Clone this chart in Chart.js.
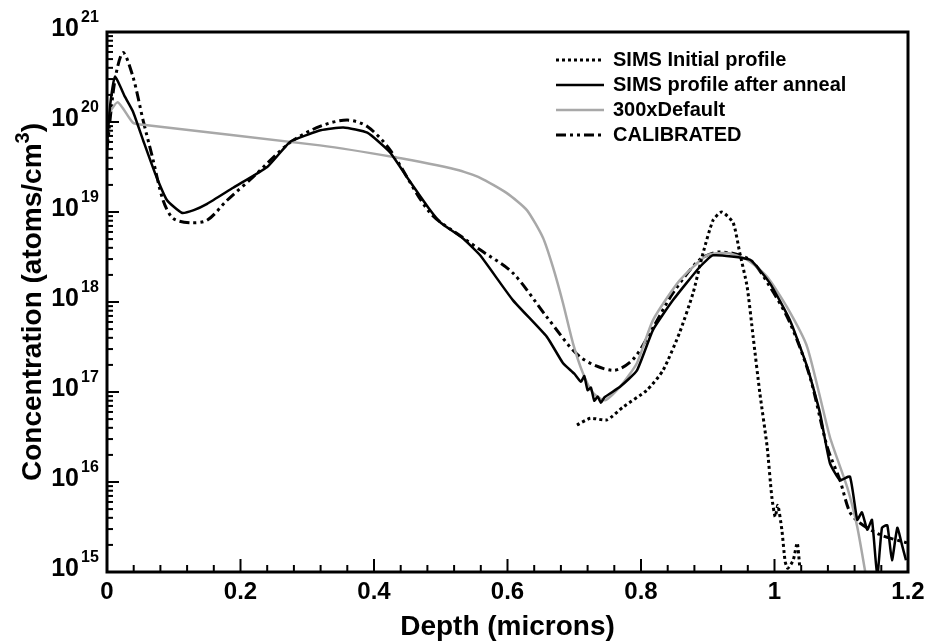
<!DOCTYPE html>
<html lang="en">
<head>
<meta charset="UTF-8">
<title>SIMS profile</title>
<style>
  html, body { margin: 0; padding: 0; background: #fff; }
  #wrap { position: relative; width: 925px; height: 643px; }
</style>
</head>
<body>
<div id="wrap"><canvas id="myChart" width="925" height="643"></canvas></div>

<script src="https://cdn.jsdelivr.net/npm/chart.js"></script>
<script>
// depth in microns, concentration in atoms/cm3
var initDepth = [0.704, 0.724, 0.749, 0.773, 0.809, 0.833, 0.858, 0.878, 0.893, 0.908, 0.921, 0.938, 0.948, 0.959, 0.968, 0.978, 0.989, 0.996, 1.001, 1.005, 1.011, 1.016, 1.02, 1.028, 1.034, 1.038];
var initConc  = [4.3e16, 5.1e16, 4.9e16, 6.8e16, 1.05e17, 1.74e17, 4.6e17, 1.26e18, 3.5e18, 8.1e18, 1.0e19, 7.6e18, 3.5e18, 1.48e18, 4.1e17, 9.8e16, 2.45e16, 6.8e15, 4.1e15, 5.5e15, 2.95e15, 1.3e15, 1.1e15, 1.35e15, 2.1e15, 1.1e15];

var annealDepth = [0.0, 0.005, 0.012, 0.027, 0.039, 0.054, 0.072, 0.09, 0.112, 0.13, 0.15, 0.189, 0.24, 0.274, 0.30, 0.32, 0.354, 0.39, 0.424, 0.45, 0.484, 0.50, 0.533, 0.559, 0.608, 0.659, 0.683, 0.70, 0.71, 0.715, 0.72, 0.725, 0.73, 0.735, 0.74, 0.745, 0.769, 0.794, 0.818, 0.848, 0.888, 0.908, 0.963, 0.993, 1.023, 1.049, 1.068, 1.083, 1.098, 1.113, 1.124, 1.131, 1.139, 1.146, 1.154, 1.161, 1.169, 1.176, 1.184, 1.191, 1.197];
var annealConc  = [5.6e19, 1.6e20, 3.2e20, 1.9e20, 1.3e20, 6.3e19, 2.7e19, 1.35e19, 9.8e18, 1.05e19, 1.23e19, 1.86e19, 3.16e19, 6.0e19, 7.2e19, 8.1e19, 8.7e19, 7.6e19, 4.6e19, 2.4e19, 1.05e19, 7.6e18, 5.1e18, 3.3e18, 1.05e18, 4.1e17, 2.1e17, 1.6e17, 1.3e17, 1.5e17, 1.05e17, 1.12e17, 8.0e16, 8.9e16, 7.6e16, 8.7e16, 1.15e17, 1.74e17, 4.9e17, 1.05e18, 2.45e18, 3.3e18, 2.95e18, 1.62e18, 6.3e17, 1.9e17, 5.9e16, 1.62e16, 1.05e16, 1.15e16, 3.8e15, 4.6e15, 2.95e15, 3.8e15, 9.0e14, 3.1e15, 3.3e15, 1.35e15, 3.1e15, 2.0e15, 1.35e15];

var defDepth = [0.0, 0.016, 0.039, 0.054, 0.319, 0.427, 0.524, 0.559, 0.599, 0.629, 0.653, 0.668, 0.683, 0.698, 0.713, 0.728, 0.746, 0.769, 0.794, 0.818, 0.858, 0.899, 0.929, 0.959, 0.989, 1.019, 1.049, 1.083, 1.109, 1.124, 1.136];
var defConc  = [1.15e20, 1.66e20, 9.8e19, 9.3e19, 5.5e19, 4.1e19, 2.95e19, 2.4e19, 1.62e19, 1.05e19, 5.2e18, 2.45e18, 9.8e17, 3.5e17, 1.62e17, 9.8e16, 8.1e16, 1.15e17, 2.1e17, 6.3e17, 1.74e18, 3.3e18, 3.5e18, 2.95e18, 1.9e18, 8.7e17, 3.16e17, 3.16e16, 8.7e15, 3.16e15, 1.0e15];

var calDepth = [0.0, 0.012, 0.024, 0.039, 0.054, 0.069, 0.084, 0.099, 0.124, 0.15, 0.18, 0.219, 0.274, 0.32, 0.36, 0.39, 0.424, 0.484, 0.533, 0.559, 0.608, 0.659, 0.709, 0.758, 0.788, 0.818, 0.848, 0.888, 0.918, 0.963, 0.993, 1.023, 1.053, 1.079, 1.098, 1.113, 1.128, 1.158, 1.199];
var calConc  = [5.0e19, 2.95e20, 5.9e20, 3.16e20, 1.05e20, 3.8e19, 1.35e19, 8.5e18, 7.6e18, 8.1e18, 1.35e19, 2.45e19, 5.9e19, 9.0e19, 1.05e20, 8.9e19, 4.9e19, 9.8e18, 5.2e18, 3.8e18, 2.1e18, 6.8e17, 2.45e17, 1.74e17, 2.3e17, 5.2e17, 1.26e18, 2.95e18, 3.6e18, 2.95e18, 1.48e18, 5.9e17, 1.48e17, 2.45e16, 1.05e16, 4.6e15, 3.5e15, 2.6e15, 2.1e15];

var seriesNames = ['SIMS Initial profile', 'SIMS profile after anneal', '300xDefault', 'CALIBRATED'];
var decades = [15, 16, 17, 18, 19, 20, 21];
var xLabels = ['0', '0.2', '0.4', '0.6', '0.8', '1', '1.2'];

function pts(xs, ys) {
  var out = [];
  for (var i = 0; i < xs.length; i++) out.push({x: xs[i], y: ys[i]});
  return out;
}

var FONT = '"Liberation Sans", Arial, sans-serif';

var framePlugin = {
  id: 'frame',
  afterDraw: function (chart) {
    var ctx = chart.ctx, a = chart.chartArea;
    var xs = chart.scales.x, ys = chart.scales.y;
    ctx.save();
    ctx.strokeStyle = '#000';
    ctx.lineWidth = 3;
    ctx.strokeRect(a.left, a.top, a.right - a.left, a.bottom - a.top);

    // inward ticks on the depth axis
    ctx.lineWidth = 2;
    for (var k = 0; k <= 30; k++) {
      var px = xs.getPixelForValue(k * 0.04);
      var len = (k % 5 === 0) ? 13 : 7;
      ctx.beginPath(); ctx.moveTo(px, a.bottom); ctx.lineTo(px, a.bottom - len); ctx.stroke();
    }
    // inward ticks on the log axis
    for (var d = 15; d <= 21; d++) {
      for (var m = 1; m <= 9; m++) {
        if (d === 21 && m > 1) break;
        var py = ys.getPixelForValue(m * Math.pow(10, d));
        var l = (m === 1) ? 12 : 6;
        ctx.beginPath(); ctx.moveTo(a.left, py); ctx.lineTo(a.left + l, py); ctx.stroke();
      }
    }

    ctx.fillStyle = '#000';
    // depth labels
    ctx.font = 'bold 24px ' + FONT;
    ctx.textAlign = 'center';
    ctx.textBaseline = 'middle';
    xLabels.forEach(function (s) {
      ctx.fillText(s, xs.getPixelForValue(parseFloat(s)), 592);
    });

    // decade labels 10^n
    ctx.textBaseline = 'alphabetic';
    decades.forEach(function (n) {
      var py = ys.getPixelForValue(Math.pow(10, n));
      ctx.font = 'bold 25px ' + FONT;
      ctx.textAlign = 'right';
      ctx.fillText('10', 79, py + 4);
      ctx.font = 'bold 16px ' + FONT;
      ctx.textAlign = 'left';
      ctx.fillText(String(n), 81, py - 10);
    });

    // axis titles
    ctx.font = 'bold 28px ' + FONT;
    ctx.textAlign = 'center';
    ctx.textBaseline = 'middle';
    ctx.fillText('Depth (microns)', (a.left + a.right) / 2, 627);

    ctx.save();
    ctx.translate(31, (a.top + a.bottom) / 2);
    ctx.rotate(-Math.PI / 2);
    var t1 = 'Concentration (atoms/cm', t2 = '3', t3 = ')';
    ctx.font = 'bold 28px ' + FONT;
    var w1 = ctx.measureText(t1).width, w3 = ctx.measureText(t3).width;
    ctx.font = 'bold 20px ' + FONT;
    var w2 = ctx.measureText(t2).width;
    var x0 = -(w1 + w2 + w3) / 2;
    ctx.textAlign = 'left';
    ctx.textBaseline = 'alphabetic';
    ctx.font = 'bold 28px ' + FONT;
    ctx.fillText(t1, x0, 10);
    ctx.font = 'bold 20px ' + FONT;
    ctx.fillText(t2, x0 + w1, -2);
    ctx.font = 'bold 28px ' + FONT;
    ctx.fillText(t3, x0 + w1 + w2, 10);
    ctx.restore();

    // legend
    var rows = [60, 85, 110, 135];
    chart.data.datasets.forEach(function (ds, i) {
      var y = rows[i];
      ctx.save();
      ctx.strokeStyle = ds.borderColor;
      ctx.lineWidth = ds.borderWidth;
      ctx.setLineDash(ds.borderDash || []);
      ctx.beginPath(); ctx.moveTo(556, y); ctx.lineTo(604, y); ctx.stroke();
      ctx.restore();
      ctx.font = 'bold 20px ' + FONT;
      ctx.fillStyle = '#000';
      ctx.textAlign = 'left';
      ctx.textBaseline = 'middle';
      ctx.fillText(ds.label, 613, y);
    });
    ctx.restore();
  }
};

var ctx = document.getElementById('myChart').getContext('2d');
var myChart = new Chart(ctx, {
  type: 'scatter',
  data: {
    datasets: [
      { label: seriesNames[0], data: pts(initDepth, initConc), showLine: true, borderColor: '#000', borderWidth: 3, borderDash: [3, 3], pointRadius: 0, tension: 0.2 },
      { label: seriesNames[1], data: pts(annealDepth, annealConc), showLine: true, borderColor: '#000', borderWidth: 2.5, pointRadius: 0, tension: 0.15 },
      { label: seriesNames[2], data: pts(defDepth, defConc), showLine: true, borderColor: '#a8a8a8', borderWidth: 2.5, pointRadius: 0, tension: 0.2 },
      { label: seriesNames[3], data: pts(calDepth, calConc), showLine: true, borderColor: '#000', borderWidth: 3, borderDash: [10, 4, 3, 4, 3, 4], pointRadius: 0, tension: 0.3 }
    ]
  },
  options: {
    responsive: false,
    animation: false,
    layout: { padding: { top: 32, right: 17, left: 0, bottom: 0 } },
    plugins: { legend: { display: false }, tooltip: { enabled: false } },
    scales: {
      x: {
        type: 'linear', min: 0, max: 1.2,
        grid: { display: false, drawTicks: false },
        border: { display: false },
        ticks: { display: false },
        afterFit: function (s) { s.height = 71; }
      },
      y: {
        type: 'logarithmic', min: 1e15, max: 1e21,
        grid: { display: false, drawTicks: false },
        border: { display: false },
        ticks: { display: false },
        afterFit: function (s) { s.width = 107; }
      }
    }
  },
  plugins: [framePlugin]
});
</script>
</body>
</html>
